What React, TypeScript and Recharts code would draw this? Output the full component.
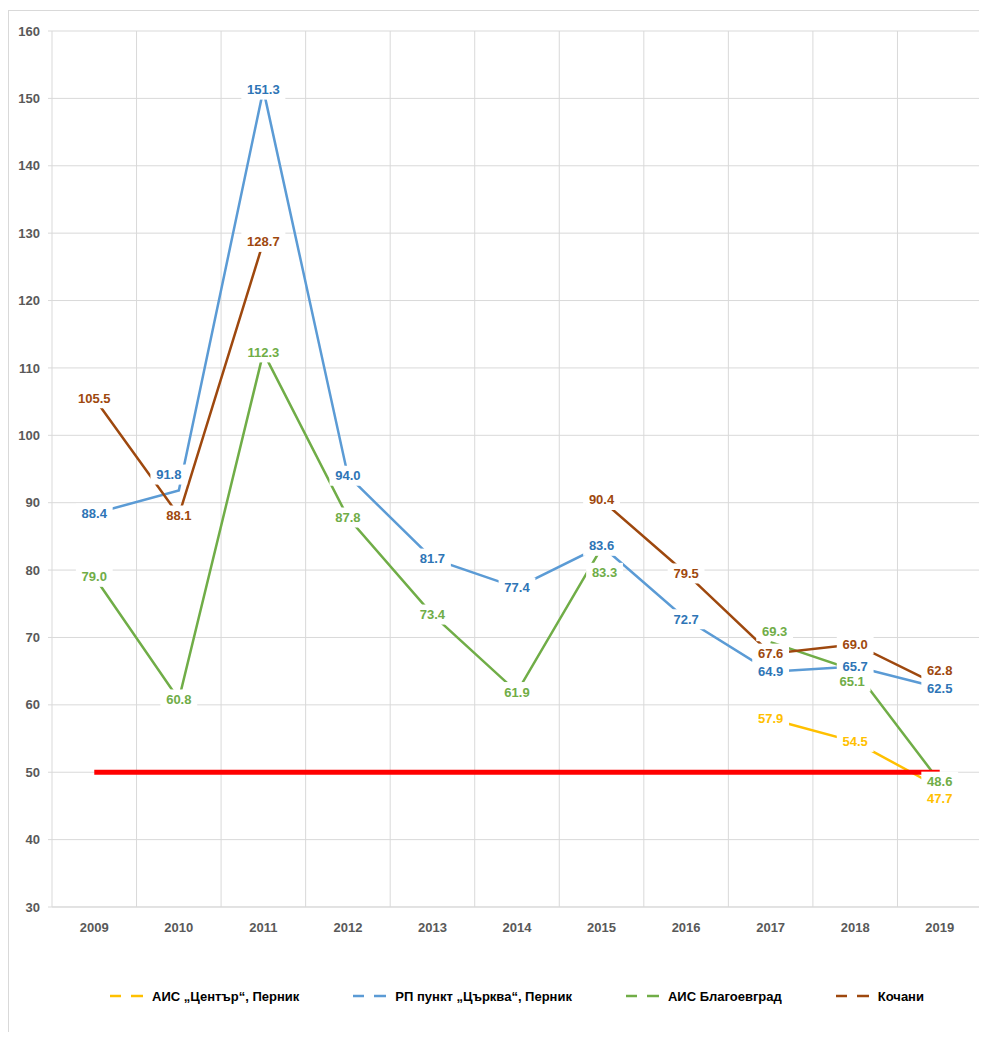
import { LineChart, Line, XAxis, YAxis, CartesianGrid } from "recharts";

// Години и стойности, отчетени от графиката
const years = ["2009", "2010", "2011", "2012", "2013", "2014", "2015", "2016", "2017", "2018", "2019"];
const centarPernik = [null, null, null, null, null, null, null, null, 57.9, 54.5, 47.7];
const tsarkvaPernik = [88.4, 91.8, 151.3, 94.0, 81.7, 77.4, 83.6, 72.7, 64.9, 65.7, 62.5];
const blagoevgrad = [79.0, 60.8, 112.3, 87.8, 73.4, 61.9, 83.3, null, 69.3, 65.1, 48.6];
const kochani = [105.5, 88.1, 128.7, null, null, null, 90.4, 79.5, 67.6, 69.0, 62.8];
const norma = [50, 50, 50, 50, 50, 50, 50, 50, 50, 50, 50];
const yTicks = [30, 40, 50, 60, 70, 80, 90, 100, 110, 120, 130, 140, 150, 160];

const SERIES = [
  { key: "centar", name: "АИС „Център“, Перник", line: "#FFC000", text: "#FFC000" },
  { key: "tsarkva", name: "РП пункт „Църква“, Перник", line: "#5B9BD5", text: "#2E75B6" },
  { key: "blago", name: "АИС Благоевград", line: "#70AD47", text: "#70AD47" },
  { key: "kochani", name: "Кочани", line: "#9E480E", text: "#9E480E" },
];

// ръчно преместени етикети (като в Excel)
const labelShift: Record<string, [number, number]> = {
  "tsarkva-1": [-10, -16],
  "blago-6": [3, 25],
  "blago-8": [4, -11],
  "blago-9": [-3, 11],
  "kochani-10": [0, -15],
  "centar-10": [0, 11],
};

const data = years.map((year, i) => ({
  year,
  centar: centarPernik[i],
  tsarkva: tsarkvaPernik[i],
  blago: blagoevgrad[i],
  kochani: kochani[i],
  norma: norma[i],
}));

const FONT = "'Liberation Sans', Arial, sans-serif";

function makeLabel(seriesKey: string, color: string) {
  return (props: any) => {
    const { x, y, value, index } = props;
    if (value == null || x == null || y == null || isNaN(y)) return null;
    const [dx, dy] = labelShift[`${seriesKey}-${index}`] ?? [0, 0];
    const txt = Number(value).toFixed(1);
    const w = txt.length * 7.2 + 8;
    return (
      <g key={`${seriesKey}-${index}`}>
        <rect x={x + dx - w / 2} y={y + dy - 10} width={w} height={20} fill="#fff" />
        <text
          x={x + dx}
          y={y + dy}
          textAnchor="middle"
          dominantBaseline="central"
          fill={color}
          fontSize={13}
          fontWeight="bold"
          fontFamily={FONT}
        >
          {txt}
        </text>
      </g>
    );
  };
}

export default function App() {
  return (
    <div
      style={{
        position: "relative",
        top: 2,
        width: 977,
        height: 1024,
        border: "1px solid #d9d9d9",
        boxSizing: "border-box",
        background: "#fff",
        fontFamily: FONT,
      }}
    >
      <LineChart width={975} height={1022} data={data} margin={{ top: 20, right: 2, left: 0, bottom: 96 }}>
        <CartesianGrid
          stroke="#d9d9d9"
          verticalCoordinatesGenerator={({ offset }: any) =>
            Array.from({ length: years.length + 1 }, (_, i) => offset.left + (i * offset.width) / years.length)
          }
        />
        <XAxis
          dataKey="year"
          scale="band"
          height={30}
          tickLine={false}
          tickSize={0}
          tickMargin={16}
          axisLine={{ stroke: "#d9d9d9" }}
          tick={{ fill: "#595959", fontSize: 13, fontWeight: "bold", fontFamily: FONT }}
        />
        <YAxis
          domain={[30, 160]}
          ticks={yTicks}
          width={43}
          tickSize={4}
          tickMargin={8}
          axisLine={false}
          tickLine={{ stroke: "#d9d9d9" }}
          tick={{ fill: "#595959", fontSize: 13, fontWeight: "bold", fontFamily: FONT }}
        />
        {SERIES.map((s) => (
          <Line
            key={s.key}
            dataKey={s.key}
            name={s.name}
            type="linear"
            stroke={s.line}
            strokeWidth={2.5}
            dot={false}
            activeDot={false}
            connectNulls={false}
            isAnimationActive={false}
            label={makeLabel(s.key, s.text)}
          />
        ))}
        <Line
          dataKey="norma"
          type="linear"
          stroke="#FF0000"
          strokeWidth={5}
          dot={false}
          activeDot={false}
          legendType="none"
          isAnimationActive={false}
        />
      </LineChart>

      {/* легенда */}
      <div
        style={{
          position: "absolute",
          left: 43,
          width: 930,
          top: 975,
          height: 20,
          display: "flex",
          justifyContent: "center",
          alignItems: "center",
          gap: 54,
        }}
      >
        {SERIES.map((s) => (
          <div key={s.key} style={{ display: "flex", alignItems: "center" }}>
            <svg width={33} height={10} style={{ marginRight: 9 }}>
              <line x1={0} y1={5} x2={11} y2={5} stroke={s.line} strokeWidth={2.5} />
              <line x1={21} y1={5} x2={33} y2={5} stroke={s.line} strokeWidth={2.5} />
            </svg>
            <span style={{ fontSize: 13, fontWeight: "bold", color: "#000", whiteSpace: "nowrap" }}>{s.name}</span>
          </div>
        ))}
      </div>
    </div>
  );
}
